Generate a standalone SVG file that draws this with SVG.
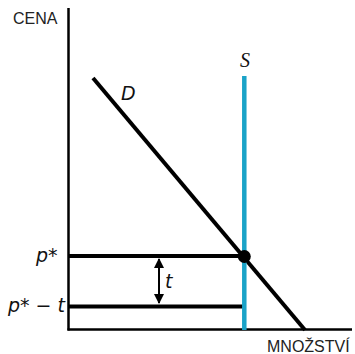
<svg xmlns="http://www.w3.org/2000/svg" width="355" height="354" viewBox="0 0 355 354">
<style>
.ax{stroke:#000;stroke-width:2.5;fill:none}
.ln{stroke:#000;stroke-width:4;fill:none}
.lbl{font-family:"Liberation Sans",Arial,sans-serif;font-size:16px;fill:#222}
.it{font-family:"DejaVu Sans","Liberation Sans",sans-serif;font-style:italic;font-size:19px;fill:#111}
.sv{font-family:"Liberation Serif","Times New Roman",serif;font-style:italic;font-size:20px;fill:#111}
</style>
<defs>
<marker id="ah" viewBox="0 0 10 10" refX="9" refY="5" markerWidth="5" markerHeight="5" orient="auto-start-reverse">
<path d="M0,0 L10,5 L0,10 z" fill="#000"/>
</marker>
</defs>
<g id="axes">
<line class="ax" x1="68.5" y1="8" x2="68.5" y2="330.5"/>
<line class="ax" x1="67.5" y1="329.5" x2="352" y2="329.5"/>
<text class="lbl" x="13" y="24">CENA</text>
<text class="lbl" x="267" y="352">MNOŽSTVÍ</text>
</g>
<g id="connectors">
<line class="ln" x1="69" y1="256" x2="244" y2="256"/>
<line class="ln" x1="69" y1="306.5" x2="244" y2="306.5"/>
<line x1="159" y1="259" x2="159" y2="303" stroke="#000" stroke-width="2" marker-start="url(#ah)" marker-end="url(#ah)"/>
</g>
<g id="demand">
<line class="ln" x1="93" y1="78" x2="305" y2="330"/>
<text class="it" x="121" y="100">D</text>
</g>
<g id="supply">
<line x1="244.3" y1="76" x2="244.3" y2="330" stroke="#1aa3c8" stroke-width="4.5"/>
<text class="sv" x="240" y="67">S</text>
</g>
<g id="equilibrium">
<circle cx="244.3" cy="256.5" r="6.5" fill="#000"/>
</g>
<g id="labels">
<text class="it" x="36" y="262">p*</text>
<text class="it" x="8" y="312">p* − t</text>
<text class="it" x="165" y="288">t</text>
</g>
</svg>
